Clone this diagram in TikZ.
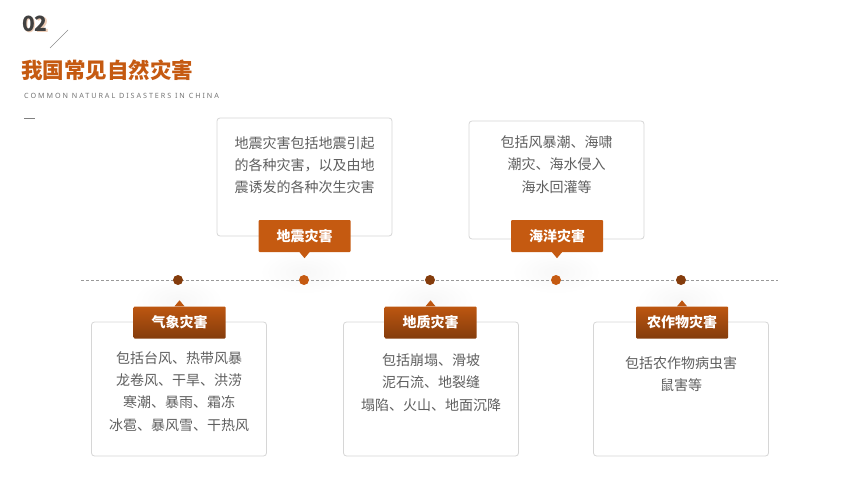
\documentclass[tikz,border=0pt]{standalone}
\usepackage{fontspec}
\newfontfamily\cjk{Noto Sans CJK SC}
\newfontfamily\latin[LetterSpace=27]{Noto Sans}
\definecolor{orangeA}{HTML}{C55A11}
\definecolor{brownA}{HTML}{843C0C}
\definecolor{cardline}{HTML}{D6D6D6}
\definecolor{txtgrey}{HTML}{5F5F5F}
\definecolor{numgrey}{HTML}{404040}
\begin{document}
\begin{tikzpicture}[x=1pt,y=-1pt,
  card/.style={draw=cardline,line width=0.8pt,rounded corners=3pt,fill=white,
    minimum width=175pt,minimum height=#1,inner sep=0pt},
  cardtext/.style={text=txtgrey,align=center,inner sep=0pt,
    font=\cjk\fontsize{14}{22.3}\selectfont},
  tag/.style={text=white,minimum width=92pt,minimum height=32pt,inner sep=0pt,
    rounded corners=1pt,font=\cjk\bfseries\fontsize{14}{14}\selectfont},
  uptag/.style={tag,fill=orangeA},
  downtag/.style={tag,top color=orangeA!88!brownA,bottom color=brownA},
  dot/.style={circle,fill=#1,minimum size=10pt,inner sep=0pt},
  glow/.style={inner color=black!3,outer color=white}]
\useasboundingbox (0,0) rectangle (860,484);
% heading
\node[anchor=west,inner sep=0pt,text=orangeA!30,font=\cjk\bfseries\fontsize{21}{21}\selectfont] at (23.2,25.2) {02};
\node[anchor=west,inner sep=0pt,text=numgrey,font=\cjk\bfseries\fontsize{21}{21}\selectfont] (num) at (22,24) {02};
\draw[black!45] (50,48) -- (68,30);
\node[anchor=west,inner sep=0pt,text=orangeA,font=\cjk\bfseries\fontsize{21.5}{21.5}\selectfont] (title) at (21,70) {我国常见自然灾害};
\node[anchor=west,inner sep=0pt,text=black!55,font=\latin\fontsize{7.2}{7.2}\selectfont] (sub) at (24,95.5) {COMMON NATURAL DISASTERS IN CHINA};
\draw[black!50] (24,118) -- (35,118);
% soft glow
\foreach \x in {304,556} \shade[glow] (\x,272) ellipse [x radius=45,y radius=22];
\foreach \x in {178,430,681} \shade[glow] (\x,300) ellipse [x radius=45,y radius=22];
% cards above
\node[card=118pt] (c1) at (304.5,177) {};
\node[card=118pt] (c2) at (556.5,180) {};
\node[cardtext] (t1) at (304.5,165) {地震灾害包括地震引起\\的各种灾害，以及由地\\震诱发的各种次生灾害};
\node[cardtext] (t2) at (556.5,164.5) {包括风暴潮、海啸\\潮灾、海水侵入\\海水回灌等};
% cards below
\node[card=134pt] (c3) at (179,389) {};
\node[card=134pt] (c4) at (431,389) {};
\node[card=134pt] (c5) at (681,389) {};
\node[cardtext] (t3) at (179,391.5) {包括台风、热带风暴\\龙卷风、干旱、洪涝\\寒潮、暴雨、霜冻\\冰雹、暴风雪、干热风};
\node[cardtext] (t4) at (431,382.5) {包括崩塌、滑坡\\泥石流、地裂缝\\塌陷、火山、地面沉降};
\node[cardtext] (t5) at (681,374) {包括农作物病虫害\\鼠害等};
% tags
\node[uptag] (l1) at (304.5,236) {地震灾害};
\node[uptag] (l2) at (557,236) {海洋灾害};
\foreach \n in {l1,l2}
  \fill[orangeA] ([xshift=-5pt]\n.south) -- ([xshift=5pt]\n.south) -- ([yshift=-6pt]\n.south) -- cycle;
\node[downtag] (l3) at (179.5,322.5) {气象灾害};
\node[downtag] (l4) at (430.5,322.5) {地质灾害};
\node[downtag] (l5) at (682,322.5) {农作物灾害};
\foreach \n in {l3,l4,l5}
  \fill[orangeA!88!brownA] ([xshift=-5pt]\n.north) -- ([xshift=5pt]\n.north) -- ([yshift=6pt]\n.north) -- cycle;
% timeline
\coordinate (lineL) at (81,280);
\coordinate (lineR) at (778,280);
\draw[black!40,line width=0.8pt,dash pattern=on 3pt off 2pt] (lineL) -- (lineR);
\node[dot=brownA] (d1) at (178,280) {};
\node[dot=orangeA] (d2) at (304,280) {};
\node[dot=brownA] (d3) at (430,280) {};
\node[dot=orangeA] (d4) at (556,280) {};
\node[dot=brownA] (d5) at (681,280) {};
\end{tikzpicture}
\end{document}
